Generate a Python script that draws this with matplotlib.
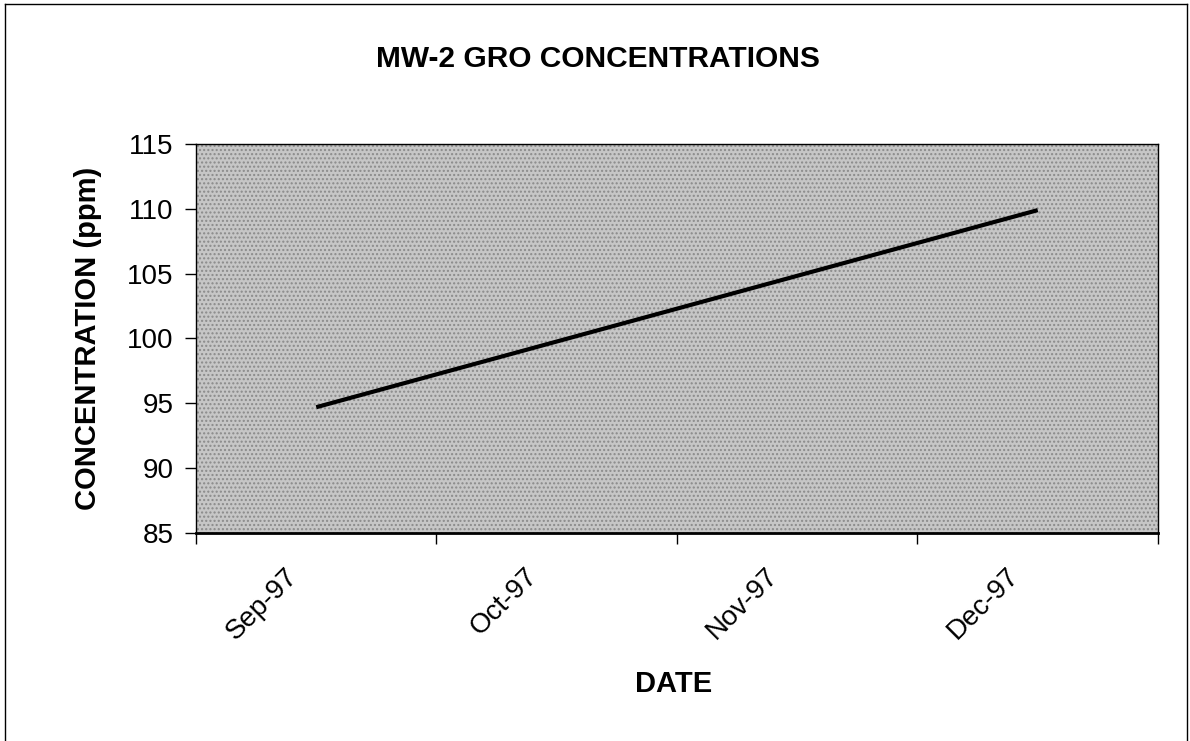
import matplotlib
matplotlib.use('Agg')
import matplotlib.pyplot as plt
from matplotlib.lines import Line2D
from matplotlib.patches import Rectangle
from matplotlib.transforms import ScaledTranslation

plt.rcParams['font.family'] = ['Liberation Sans', 'DejaVu Sans']

# category axis and sampled values
months = ['Sep-97', 'Oct-97', 'Nov-97', 'Dec-97']
sample_months = ['Sep-97', 'Dec-97']
gro_ppm = [94.7, 109.9]
y_ticks = [85, 90, 95, 100, 105, 110, 115]

fig = plt.figure(figsize=(11.9, 7.41), dpi=100)
ax = fig.add_axes([0.1647, 0.2807, 0.8084, 0.525])

# stippled plot area
ax.set_facecolor('#c6c6c6')
ax.add_patch(Rectangle((0, 0), 1, 1, transform=ax.transAxes, facecolor='none',
                       edgecolor='#8a8a8a', hatch='....', lw=0, zorder=0))

xs = [months.index(m) for m in sample_months]
ax.plot(xs, gro_ppm, color='black', lw=3, solid_capstyle='butt', zorder=3)

ax.set_xlim(-0.5, len(months) - 0.5)
ax.set_ylim(85, 115)
ax.set_yticks(y_ticks)
ax.tick_params(axis='y', direction='out', length=8, width=1, labelsize=20, pad=8)

# tick marks between categories, labels at category centres
ax.set_xticks([i - 0.5 for i in range(len(months) + 1)])
ax.set_xticklabels([])
ax.set_xticks(range(len(months)), minor=True)
ax.set_xticklabels(months, minor=True, rotation=45, ha='right', va='top',
                   rotation_mode='anchor', fontsize=20)
ax.tick_params(axis='x', which='major', direction='out', length=8, width=1)
ax.tick_params(axis='x', which='minor', length=0, pad=0)
off = ScaledTranslation(-0.32, -0.30, fig.dpi_scale_trans)
for lab in ax.get_xticklabels(minor=True):
    lab.set_transform(lab.get_transform() + off)

for s in ax.spines.values():
    s.set_color('black')
    s.set_linewidth(1)
ax.spines['bottom'].set_linewidth(2)

ax.set_ylabel('CONCENTRATION (ppm)', fontsize=21, fontweight='bold', labelpad=18)
fig.text(674 / 1190, 1 - 684 / 741, 'DATE', fontsize=21, fontweight='bold',
         ha='center', va='center')
fig.text(598 / 1190, 1 - 59 / 741, 'MW-2 GRO CONCENTRATIONS', fontsize=21.5,
         fontweight='bold', ha='center', va='center')

# page frame
fig.add_artist(Line2D([5 / 1190, 5 / 1190], [0, 1 - 4 / 741], transform=fig.transFigure, color='black', lw=1))
fig.add_artist(Line2D([5 / 1190, 1187 / 1190], [1 - 4 / 741, 1 - 4 / 741], transform=fig.transFigure, color='black', lw=1))
fig.add_artist(Line2D([1187 / 1190, 1187 / 1190], [0, 1 - 4 / 741], transform=fig.transFigure, color='black', lw=1))

fig.savefig('out.png', dpi=100)
